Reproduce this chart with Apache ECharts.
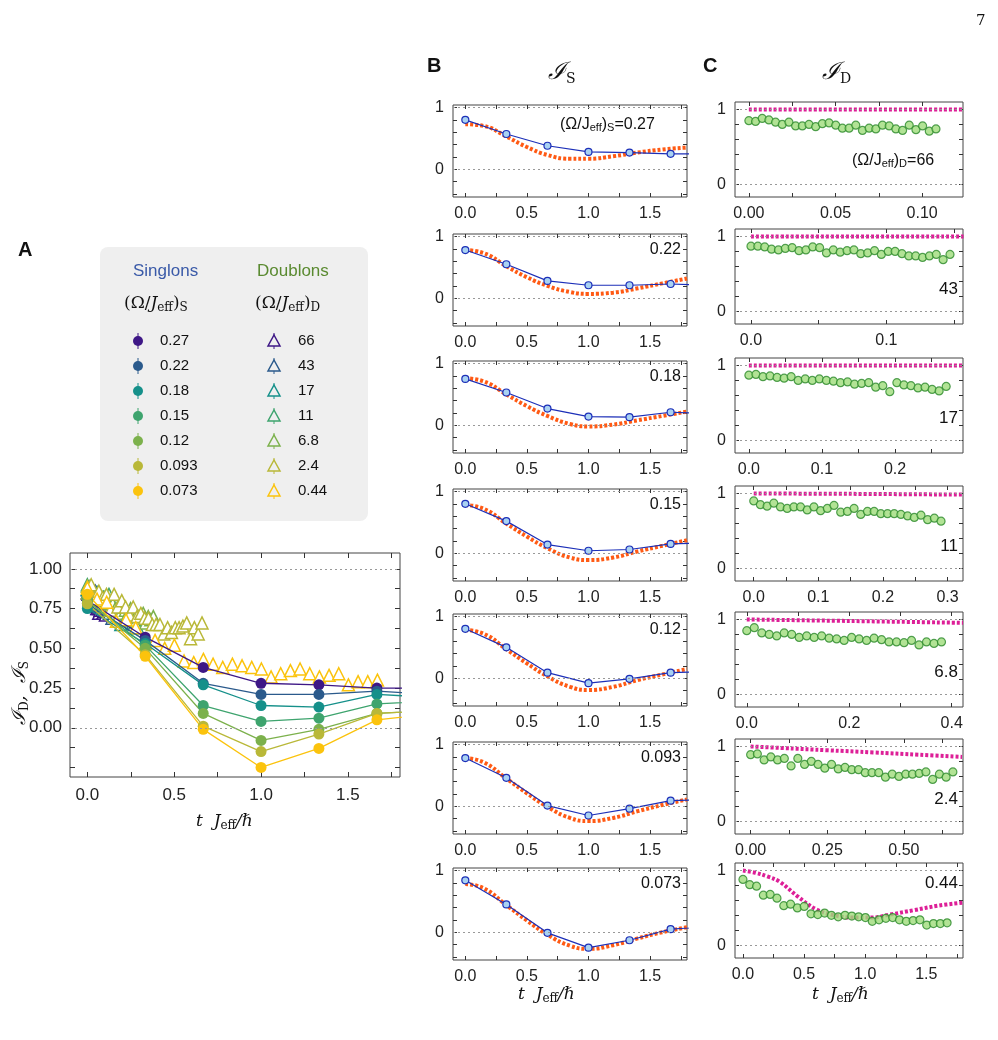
<!DOCTYPE html>
<html><head><meta charset="utf-8">
<script src="https://cdn.jsdelivr.net/npm/echarts@6/dist/echarts.min.js"></script>
<style>html,body{margin:0;background:#fff}#c{width:998px;height:1040px}</style>
</head><body><div id="c"></div>
<script>
// ---------- data ----------
const singLabels = ['0.27','0.22','0.18','0.15','0.12','0.093','0.073'];
const doubLabels = ['66','43','17','11','6.8','2.4','0.44'];
const tS = [0, 0.333, 0.667, 1.0, 1.333, 1.667, 2.0];
const sing = [
  [0.80,0.57,0.38,0.28,0.27,0.25,0.25],
  [0.78,0.55,0.28,0.21,0.21,0.23,0.21],
  [0.75,0.53,0.27,0.14,0.13,0.21,0.19],
  [0.80,0.52,0.14,0.04,0.06,0.15,0.17],
  [0.80,0.50,0.09,-0.08,-0.01,0.09,0.11],
  [0.78,0.46,0.01,-0.15,-0.04,0.09,0.11],
  [0.84,0.45,-0.01,-0.25,-0.13,0.05,0.09]
];
const tTheoS = [0, 0.15, 0.333, 0.5, 0.667, 0.85, 1.0, 1.2, 1.4, 1.6, 1.8];
const theoS = [
  [0.73,0.70,0.53,0.36,0.23,0.17,0.17,0.21,0.27,0.32,0.35],
  [0.78,0.73,0.52,0.34,0.20,0.10,0.07,0.09,0.16,0.24,0.32],
  [0.76,0.71,0.50,0.31,0.15,0.02,-0.02,0.01,0.08,0.15,0.22],
  [0.78,0.72,0.48,0.27,0.08,-0.07,-0.11,-0.07,0.03,0.12,0.21],
  [0.78,0.72,0.47,0.24,0.03,-0.14,-0.19,-0.14,-0.03,0.06,0.15],
  [0.78,0.71,0.45,0.21,-0.01,-0.19,-0.24,-0.19,-0.08,0.02,0.11],
  [0.78,0.71,0.44,0.19,-0.04,-0.22,-0.27,-0.21,-0.10,0.00,0.08]
];
const doubTmax = [0.108, 0.147, 0.27, 0.29, 0.38, 0.66, 1.67];
const doub = [
  [0.85,0.84,0.88,0.86,0.83,0.80,0.83,0.78,0.78,0.80,0.77,0.81,0.82,0.79,0.75,0.75,0.79,0.72,0.75,0.74,0.79,0.78,0.74,0.72,0.79,0.73,0.78,0.71,0.74],
  [0.87,0.87,0.86,0.83,0.82,0.84,0.85,0.81,0.82,0.86,0.85,0.78,0.82,0.79,0.81,0.82,0.77,0.78,0.81,0.76,0.80,0.80,0.77,0.74,0.74,0.72,0.74,0.76,0.69,0.76],
  [0.87,0.88,0.85,0.86,0.84,0.83,0.85,0.80,0.82,0.80,0.82,0.80,0.79,0.77,0.78,0.75,0.76,0.77,0.71,0.73,0.65,0.77,0.74,0.73,0.70,0.71,0.68,0.66,0.72],
  [0.90,0.85,0.83,0.87,0.82,0.80,0.82,0.82,0.78,0.82,0.77,0.80,0.84,0.75,0.76,0.80,0.72,0.76,0.76,0.73,0.73,0.73,0.72,0.70,0.68,0.71,0.65,0.67,0.63],
  [0.85,0.89,0.82,0.80,0.78,0.82,0.80,0.76,0.78,0.76,0.78,0.75,0.74,0.72,0.76,0.74,0.72,0.75,0.73,0.70,0.70,0.69,0.72,0.66,0.70,0.68,0.70],
  [0.89,0.90,0.82,0.86,0.82,0.84,0.74,0.84,0.76,0.80,0.76,0.71,0.76,0.70,0.72,0.69,0.69,0.65,0.65,0.65,0.59,0.63,0.60,0.63,0.63,0.64,0.66,0.56,0.63,0.59,0.66],
  [0.88,0.81,0.79,0.67,0.68,0.63,0.53,0.55,0.50,0.52,0.42,0.41,0.43,0.40,0.38,0.40,0.39,0.38,0.37,0.32,0.34,0.36,0.37,0.34,0.32,0.33,0.34,0.27,0.29,0.29,0.30]
];
const theoD = [
  [[0,1],[0.124,1]],
  [[0,1],[0.157,1]],
  [[0,1],[0.293,1]],
  [[0,1],[0.15,0.995],[0.324,0.985]],
  [[0,1],[0.2,0.98],[0.422,0.955]],
  [[0,1],[0.1,0.98],[0.25,0.95],[0.4,0.92],[0.55,0.89],[0.69,0.86]],
  [[0,1],[0.1,0.97],[0.2,0.92],[0.3,0.85],[0.45,0.65],[0.6,0.48],[0.75,0.40],[0.9,0.37],[1.05,0.37],[1.2,0.41],[1.4,0.47],[1.6,0.53],[1.8,0.57]]
];
const cXmin = [-0.008,-0.0118,-0.019,-0.029,-0.023,-0.051,-0.065];
const cXmax = [0.1236,0.1566,0.293,0.324,0.422,0.693,1.8];
const cXlabels = [[0,0.05,0.1],[0,0.1],[0,0.1,0.2],[0,0.1,0.2,0.3],[0,0.2,0.4],[0,0.25,0.5],[0,0.5,1.0,1.5]];
const cXfmt = [2,1,1,1,1,2,1];
const colors = ['#3e1786','#2b5a8c','#15908a','#3ea46e','#7cb14c','#b9b838','#fbc30d'];

// ---------- layout ----------
const bTops = [105,234,361,489,614,742,868];
const cTops = [102,229,358,486,612,739,863];
const grids = [], xAxes = [], yAxes = [], series = [];
const axBase = {axisLine:{show:false, onZero:false}, splitLine:{show:false}};
function addGrid(g, x, y){
  grids.push(Object.assign({show:true, borderColor:'#444', borderWidth:1, backgroundColor:'transparent'}, g));
  const i = grids.length - 1;
  const xi = xAxes.length, yi = yAxes.length;
  xAxes.push(Object.assign({gridIndex:i, type:'value', position:'bottom'}, axBase, x));
  yAxes.push(Object.assign({gridIndex:i, type:'value', position:'left'}, axBase, y));
  xAxes.push(Object.assign({gridIndex:i, type:'value', position:'top'}, axBase, x, {axisLabel:{show:false}}));
  yAxes.push(Object.assign({gridIndex:i, type:'value', position:'right'}, axBase, y, {axisLabel:{show:false}}));
  return {x:xi, y:yi};
}
function range(a,b,s){const r=[];for(let v=a;v<=b+1e-9;v+=s)r.push(+v.toFixed(4));return r;}
function hline(a, vals){
  return {type:'line', xAxisIndex:a.x, yAxisIndex:a.y, data:[], silent:true,
    markLine:{symbol:'none', silent:true, label:{show:false},
      lineStyle:{color:'#999', type:[2,3], width:1}, data: vals.map(v=>({yAxis:v}))}};
}
const lblStyle = {color:'#222', fontSize:16, fontFamily:'Liberation Sans, Arial'};
const tk = {color:'#333'};

// Panel A
const aA = addGrid({left:70, top:553, width:330, height:224},
  {min:-0.1, max:1.8, axisLabel:Object.assign({}, lblStyle, {fontSize:17, customValues:[0,0.5,1.0,1.5], formatter:v=>v.toFixed(1), margin:10}),
   axisTick:{inside:true, length:5, customValues:range(0,1.75,0.25), lineStyle:tk}},
  {min:-0.31, max:1.1, axisLabel:Object.assign({}, lblStyle, {fontSize:17, customValues:[0,0.25,0.5,0.75,1.0], formatter:v=>v.toFixed(2), margin:8}),
   axisTick:{inside:true, length:5, customValues:range(-0.25,1.0,0.125), lineStyle:tk}});
series.push(hline(aA,[0,1]));
for(let k=0;k<7;k++){
  const n = doub[k].length;
  series.push({type:'line', xAxisIndex:aA.x, yAxisIndex:aA.y, symbol:'triangle', symbolSize:12,
    lineStyle:{width:0}, itemStyle:{color:'#fff', borderColor:colors[k], borderWidth:1.5}, z:3,
    data: doub[k].map((v,j)=>[doubTmax[k]*j/(n-1), v])});
}
for(let k=0;k<7;k++){
  series.push({type:'line', xAxisIndex:aA.x, yAxisIndex:aA.y, symbol:'circle', symbolSize:11,
    lineStyle:{width:1.3, color:colors[k]}, itemStyle:{color:colors[k]}, z:4,
    data: tS.map((t,j)=>[t, sing[k][j]])});
}

// Panels B and C
for(let r=0;r<7;r++){
  const ab = addGrid({left:453, top:bTops[r], width:234, height:92},
    {min:-0.1, max:1.8, axisLabel:Object.assign({}, lblStyle, {customValues:[0,0.5,1.0,1.5], formatter:v=>v.toFixed(1), margin:9}),
     axisTick:{inside:true, length:4, customValues:range(0,1.75,0.25), lineStyle:tk}},
    {min:-0.45, max:1.04, axisLabel:Object.assign({}, lblStyle, {customValues:[0,1], formatter:v=>String(v), margin:9}),
     axisTick:{inside:true, length:4, customValues:range(-0.4,1.0,0.2), lineStyle:tk}});
  series.push(hline(ab,[0,1]));
  series.push({type:'line', xAxisIndex:ab.x, yAxisIndex:ab.y, smooth:0.5, showSymbol:false,
    lineStyle:{color:'#ff5a14', width:4, type:[3,2]}, z:2, data: tTheoS.map((t,j)=>[t, theoS[r][j]])});
  series.push({type:'line', xAxisIndex:ab.x, yAxisIndex:ab.y, symbol:'circle', symbolSize:7,
    lineStyle:{color:'#1c2fb8', width:1.2}, itemStyle:{color:'#a9d2f2', borderColor:'#1c2fb8', borderWidth:1.2}, z:3,
    data: tS.map((t,j)=>[t, sing[r][j]])});

  const fd = cXfmt[r];
  const span = cXlabels[r][1]-cXlabels[r][0];
  const ac = addGrid({left:735, top:cTops[r], width:228, height:95},
    {min:cXmin[r], max:cXmax[r], axisLabel:Object.assign({}, lblStyle, {customValues:cXlabels[r], formatter:v=>v.toFixed(fd), margin:9}),
     axisTick:{inside:true, length:4, customValues:range(0,cXmax[r],span/2), lineStyle:tk}},
    {min:-0.17, max:1.1, axisLabel:Object.assign({}, lblStyle, {customValues:[0,1], formatter:v=>String(v), margin:9}),
     axisTick:{inside:true, length:4, customValues:range(0,1.0,0.2), lineStyle:tk}});
  series.push(hline(ac,[0,1]));
  series.push({type:'line', xAxisIndex:ac.x, yAxisIndex:ac.y, smooth:0.4, showSymbol:false,
    lineStyle:{color:'#dd1f97', width:4, type:[3,2]}, z:2, data: theoD[r]});
  const n = doub[r].length;
  series.push({type:'scatter', xAxisIndex:ac.x, yAxisIndex:ac.y, symbol:'circle', symbolSize:8,
    itemStyle:{color:'#9fdc7a', borderColor:'#2c8a2c', borderWidth:1.2}, z:3,
    data: doub[r].map((v,j)=>[doubTmax[r]*j/(n-1), v])});
}

// ---------- text / legend ----------
const serif = 'DejaVu Serif, Liberation Serif, serif';
const sans = 'Liberation Sans, Arial, sans-serif';
const G = [];
function txt(x,y,text,style){G.push({type:'text', x, y, style:Object.assign({text, fill:'#111', font:'16px '+sans}, style)});}
txt(976,14,'7',{font:'15px '+serif});
txt(18,240,'A',{font:'bold 20px '+sans});
txt(427,56,'B',{font:'bold 20px '+sans});
txt(703,56,'C',{font:'bold 20px '+sans});
G.push({type:'text', x:548, y:60, style:{text:'{i|ℐ}{s|S}', rich:{i:{font:'italic 24px '+serif, fill:'#111'}, s:{font:'14px '+serif, fill:'#111', padding:[12,0,0,0]}}}});
G.push({type:'text', x:822, y:60, style:{text:'{i|ℐ}{s|D}', rich:{i:{font:'italic 24px '+serif, fill:'#111'}, s:{font:'14px '+serif, fill:'#111', padding:[12,0,0,0]}}}});
function xtitle(x,y){G.push({type:'text', x, y, style:{text:'{i|t  J}{s|eff}{i|/ℏ}', rich:{i:{font:'italic 17px '+serif, fill:'#111'}, s:{font:'12px '+serif, fill:'#111', padding:[8,0,0,0]}}}});}
xtitle(196,812); xtitle(518,985); xtitle(812,985);
G.push({type:'text', x:10, y:725, rotation:Math.PI/2, style:{text:'{i|ℐ}{s|D}{i|,  ℐ}{s|S}', rich:{i:{font:'italic 19px '+serif, fill:'#111'}, s:{font:'12px '+serif, fill:'#111', padding:[9,0,0,0]}}}});
G.push({type:'text', x:560, y:116, style:{text:'(Ω/J{s|eff}){s|S}=0.27', font:'16px '+sans, fill:'#111', rich:{s:{font:'11px '+sans, fill:'#111', padding:[6,0,0,0]}}}});
for(let r=1;r<7;r++){G.push({type:'text', x:681, y:bTops[r]+8, style:{text:singLabels[r], font:'16px '+sans, fill:'#111', align:'right'}});}
G.push({type:'text', x:852, y:152, style:{text:'(Ω/J{s|eff}){s|D}=66', font:'16px '+sans, fill:'#111', rich:{s:{font:'11px '+sans, fill:'#111', padding:[6,0,0,0]}}}});
for(let r=1;r<6;r++){G.push({type:'text', x:958, y:cTops[r]+52, style:{text:doubLabels[r], font:'17px '+sans, fill:'#111', align:'right'}});}
G.push({type:'text', x:958, y:cTops[6]+12, style:{text:doubLabels[6], font:'17px '+sans, fill:'#111', align:'right'}});
// legend box
G.push({type:'rect', shape:{x:100, y:247, width:268, height:274, r:8}, style:{fill:'#efefef'}, z:-1});
txt(133,263,'Singlons',{font:'17px '+sans, fill:'#3a5aa8'});
txt(257,263,'Doublons',{font:'17px '+sans, fill:'#5a8a30'});
G.push({type:'text', x:124, y:294, style:{text:'(Ω/{i|J}{s|eff}){s|S}', font:'17px '+serif, fill:'#111', rich:{i:{font:'italic 17px '+serif, fill:'#111'}, s:{font:'12px '+serif, fill:'#111', padding:[8,0,0,0]}}}});
G.push({type:'text', x:255, y:294, style:{text:'(Ω/{i|J}{s|eff}){s|D}', font:'17px '+serif, fill:'#111', rich:{i:{font:'italic 17px '+serif, fill:'#111'}, s:{font:'12px '+serif, fill:'#111', padding:[8,0,0,0]}}}});
for(let k=0;k<7;k++){
  const y = 341 + k*25;
  G.push({type:'line', shape:{x1:138,y1:y-8,x2:138,y2:y+8}, style:{stroke:colors[k], lineWidth:1}});
  G.push({type:'circle', shape:{cx:138, cy:y, r:5}, style:{fill:colors[k]}});
  txt(160,y-8,singLabels[k],{font:'15px '+sans});
  G.push({type:'line', shape:{x1:274,y1:y-8,x2:274,y2:y+8}, style:{stroke:colors[k], lineWidth:1}});
  G.push({type:'polygon', shape:{points:[[274,y-6],[280,y+5],[268,y+5]]}, style:{fill:'#efefef', stroke:colors[k], lineWidth:1.5}});
  txt(298,y-8,doubLabels[k],{font:'15px '+sans});
}

const chart = echarts.init(document.getElementById('c'));
chart.setOption({animation:false, grid:grids, xAxis:xAxes, yAxis:yAxes, series, graphic:G});
</script></body></html>
